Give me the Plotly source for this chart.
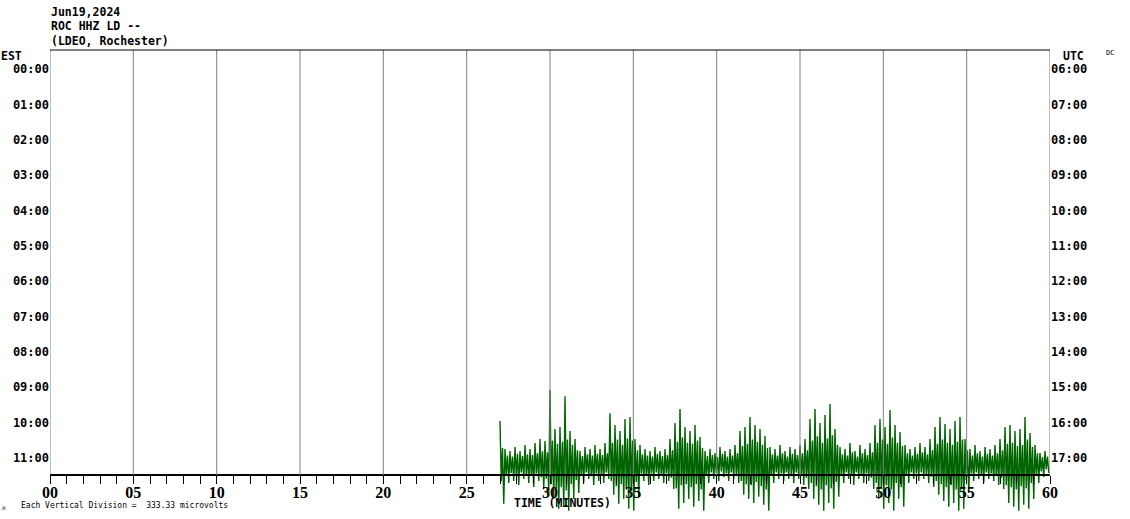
import plotly.graph_objects as go

# ---------------- data ----------------
title_lines = ["Jun19,2024", "ROC HHZ LD --", "(LDEO, Rochester)"]
est_labels = ["00:00", "01:00", "02:00", "03:00", "04:00", "05:00",
              "06:00", "07:00", "08:00", "09:00", "10:00", "11:00"]
utc_labels = ["06:00", "07:00", "08:00", "09:00", "10:00", "11:00",
              "12:00", "13:00", "14:00", "15:00", "16:00", "17:00"]
minute_ticks = [0, 5, 10, 15, 20, 25, 30, 35, 40, 45, 50, 55, 60]
minute_labels = ["00", "05", "10", "15", "20", "25", "30", "35", "40", "45", "50", "55", "60"]

trace_row = 11            # the 11:00 EST line carries data
trace_start_min = 27.0    # data starts at minute 27
bin_min = 0.3             # width of each envelope bin, minutes
uv_per_division = 333.33

# per-bin peak excursions of the seismogram (microvolts)
upper_uv = [404, 141, 122, 160, 122, 179, 141, 197, 235, 216,
            696, 329, 348, 639, 310, 235, 122, 160, 141, 179,
            141, 197, 479, 367, 310, 423, 442, 235, 179, 141,
            122, 160, 122, 141, 235, 385, 517, 348, 310, 367,
            254, 122, 141, 103, 160, 122, 141, 179, 310, 348,
            442, 367, 329, 263, 160, 141, 179, 122, 160, 141,
            179, 235, 423, 517, 385, 461, 564, 329, 160, 141,
            197, 122, 179, 141, 197, 367, 423, 348, 508, 367,
            301, 179, 141, 160, 197, 160, 235, 348, 442, 376,
            329, 404, 442, 235, 141, 179, 122, 160, 141, 179,
            235, 348, 367, 310, 329, 442, 291, 179, 103, 122]
lower_uv = [-376, -179, -160, -197, -141, -179, -216, -160, -235, -273,
            -329, -423, -404, -442, -329, -273, -179, -141, -197, -160,
            -179, -141, -291, -376, -329, -423, -442, -310, -160, -197,
            -160, -141, -179, -160, -235, -423, -367, -329, -404, -348,
            -442, -179, -141, -160, -122, -160, -141, -179, -291, -329,
            -367, -310, -385, -442, -179, -141, -160, -141, -179, -141,
            -197, -235, -329, -385, -442, -367, -423, -310, -179, -141,
            -197, -141, -179, -160, -235, -329, -423, -367, -442, -329,
            -404, -179, -141, -160, -141, -179, -216, -291, -348, -404,
            -367, -442, -423, -273, -160, -141, -179, -141, -160, -197,
            -235, -367, -404, -442, -385, -423, -329, -179, -122, -85]
# per-bin typical (core) excursions, microvolts
core_upper_uv = [150, 80, 70, 95, 75, 90, 85, 100, 120, 110,
                 220, 190, 210, 230, 180, 130, 75, 90, 80, 95,
                 85, 100, 200, 230, 180, 240, 220, 130, 90, 80,
                 70, 95, 75, 85, 130, 210, 250, 200, 190, 220,
                 150, 75, 85, 65, 95, 70, 80, 100, 170, 190,
                 230, 210, 180, 150, 90, 80, 100, 70, 95, 85,
                 100, 130, 220, 260, 200, 240, 270, 180, 90, 80,
                 110, 70, 100, 85, 110, 200, 230, 190, 250, 200,
                 170, 100, 80, 95, 110, 90, 130, 190, 230, 200,
                 180, 210, 230, 130, 80, 100, 70, 95, 80, 100,
                 130, 190, 200, 170, 180, 230, 160, 100, 65, 70]
core_lower_uv = [-160, -95, -85, -105, -80, -95, -110, -90, -125, -140,
                 -190, -230, -220, -250, -190, -150, -95, -80, -105, -90,
                 -95, -80, -160, -210, -190, -240, -250, -170, -90, -105,
                 -90, -80, -95, -90, -130, -230, -200, -190, -220, -190,
                 -240, -95, -80, -90, -70, -90, -80, -100, -160, -190,
                 -200, -170, -210, -240, -95, -80, -90, -80, -95, -80,
                 -105, -130, -180, -210, -240, -200, -230, -170, -95, -80,
                 -105, -80, -95, -90, -130, -180, -230, -200, -240, -180,
                 -220, -95, -80, -90, -80, -95, -120, -160, -190, -220,
                 -200, -240, -230, -150, -90, -80, -95, -80, -90, -105,
                 -130, -200, -220, -240, -210, -230, -180, -95, -70, -50]

# ---------------- geometry helpers ----------------
W, H = 1130, 519
ML, MR, MT, MB = 50, 80, 50, 0
PW, PH = W - ML - MR, H - MT - MB


def px_x(px):
    return (px - ML) / PW


def px_y(py):
    return (H - MB - py) / PH


ROW0_PX, ROW_PX = 75.0, 35.36
y_top = (MT - ROW0_PX) / ROW_PX
y_bot = (H - MB - ROW0_PX) / ROW_PX
axis_pos = px_y(475)

# ---------------- trace ----------------
xs, ys = [], []
for k in range(len(upper_uv)):
    t0 = trace_start_min + k * bin_min
    step = bin_min / 4
    vals = [upper_uv[k], core_lower_uv[k], core_upper_uv[k], lower_uv[k]]
    for j, v in enumerate(vals):
        xs.append(t0 + j * step)
        ys.append(trace_row - v / uv_per_division)

fig = go.Figure()
fig.add_trace(go.Scatter(x=xs, y=ys, mode="lines",
                         line=dict(color="#006400", width=1.4),
                         hoverinfo="skip", showlegend=False))
fig.add_trace(go.Scatter(x=[0], y=[0], yaxis="y2", mode="markers",
                         marker=dict(opacity=0), hoverinfo="skip", showlegend=False))

mono = "DejaVu Sans Mono"
lab_font = dict(family=mono, size=12, color="black", weight="bold")
head_font = dict(family=mono, size=11.5, color="black", weight="bold")
tick_pos = [i - 0.17 for i in range(len(est_labels))]

shapes = []
for m in minute_ticks:
    shapes.append(dict(type="line", xref="x", yref="paper", x0=m, x1=m,
                       y0=axis_pos, y1=1, line=dict(color="#808080", width=1),
                       layer="above"))
shapes.append(dict(type="line", xref="x", yref="paper", x0=0, x1=60, y0=1, y1=1,
                   line=dict(color="black", width=1), layer="above"))

annotations = []
for i, t in enumerate(title_lines):
    annotations.append(dict(text=t, xref="paper", yref="paper", x=px_x(49),
                            y=px_y(12 + i * 14.5), xanchor="left", yanchor="middle",
                            showarrow=False, font=head_font))
annotations.append(dict(text="EST", xref="paper", yref="paper", x=px_x(-1), y=px_y(56),
                        xanchor="left", yanchor="middle", showarrow=False, font=head_font))
annotations.append(dict(text="UTC", xref="paper", yref="paper", x=px_x(1073), y=px_y(56),
                        xanchor="center", yanchor="middle", showarrow=False, font=head_font))
annotations.append(dict(text="DC", xref="paper", yref="paper", x=px_x(1110), y=px_y(53),
                        xanchor="center", yanchor="middle", showarrow=False,
                        font=dict(family=mono, size=7, color="black")))
annotations.append(dict(text="TIME (MINUTES)", xref="paper", yref="paper", x=px_x(562),
                        y=px_y(503), xanchor="center", yanchor="middle", showarrow=False,
                        font=head_font))
annotations.append(dict(text="л", xref="paper", yref="paper", x=px_x(4),
                        y=px_y(507), xanchor="center", yanchor="middle", showarrow=False,
                        font=dict(family=mono, size=6, color="black")))
annotations.append(dict(text="Each Vertical Division =  333.33 microvolts", xref="paper",
                        yref="paper", x=px_x(19), y=px_y(505), xanchor="left",
                        yanchor="middle", showarrow=False,
                        font=dict(family=mono, size=8, color="black")))

fig.update_layout(
    width=W, height=H,
    margin=dict(l=ML, r=MR, t=MT, b=MB, autoexpand=False),
    paper_bgcolor="white", plot_bgcolor="white",
    showlegend=False,
    xaxis=dict(range=[0, 60], anchor="free", position=axis_pos,
               showline=True, linecolor="black", linewidth=2,
               showgrid=False, zeroline=False,
               tickvals=minute_ticks, ticktext=minute_labels,
               ticks="outside", ticklen=8, tickwidth=1, tickcolor="black",
               ticklabelstandoff=-5,
               minor=dict(dtick=1, tick0=0, ticks="outside", ticklen=8,
                          tickwidth=1, tickcolor="black", showgrid=False),
               tickfont=dict(family="Liberation Serif", size=16, color="black",
                             weight="bold"),
               fixedrange=True),
    yaxis=dict(range=[y_bot, y_top], showgrid=False, zeroline=False, showline=False,
               tickvals=tick_pos, ticktext=est_labels, ticks="",
               tickfont=lab_font, fixedrange=True),
    yaxis2=dict(range=[y_bot, y_top], overlaying="y", side="right", showgrid=False,
                zeroline=False, showline=False, tickvals=tick_pos,
                ticktext=utc_labels, ticks="", tickfont=lab_font, fixedrange=True),
    shapes=shapes,
    annotations=annotations,
)

fig.write_html("out.html", config={"displayModeBar": False},
               post_script="document.body.style.margin='0';")
